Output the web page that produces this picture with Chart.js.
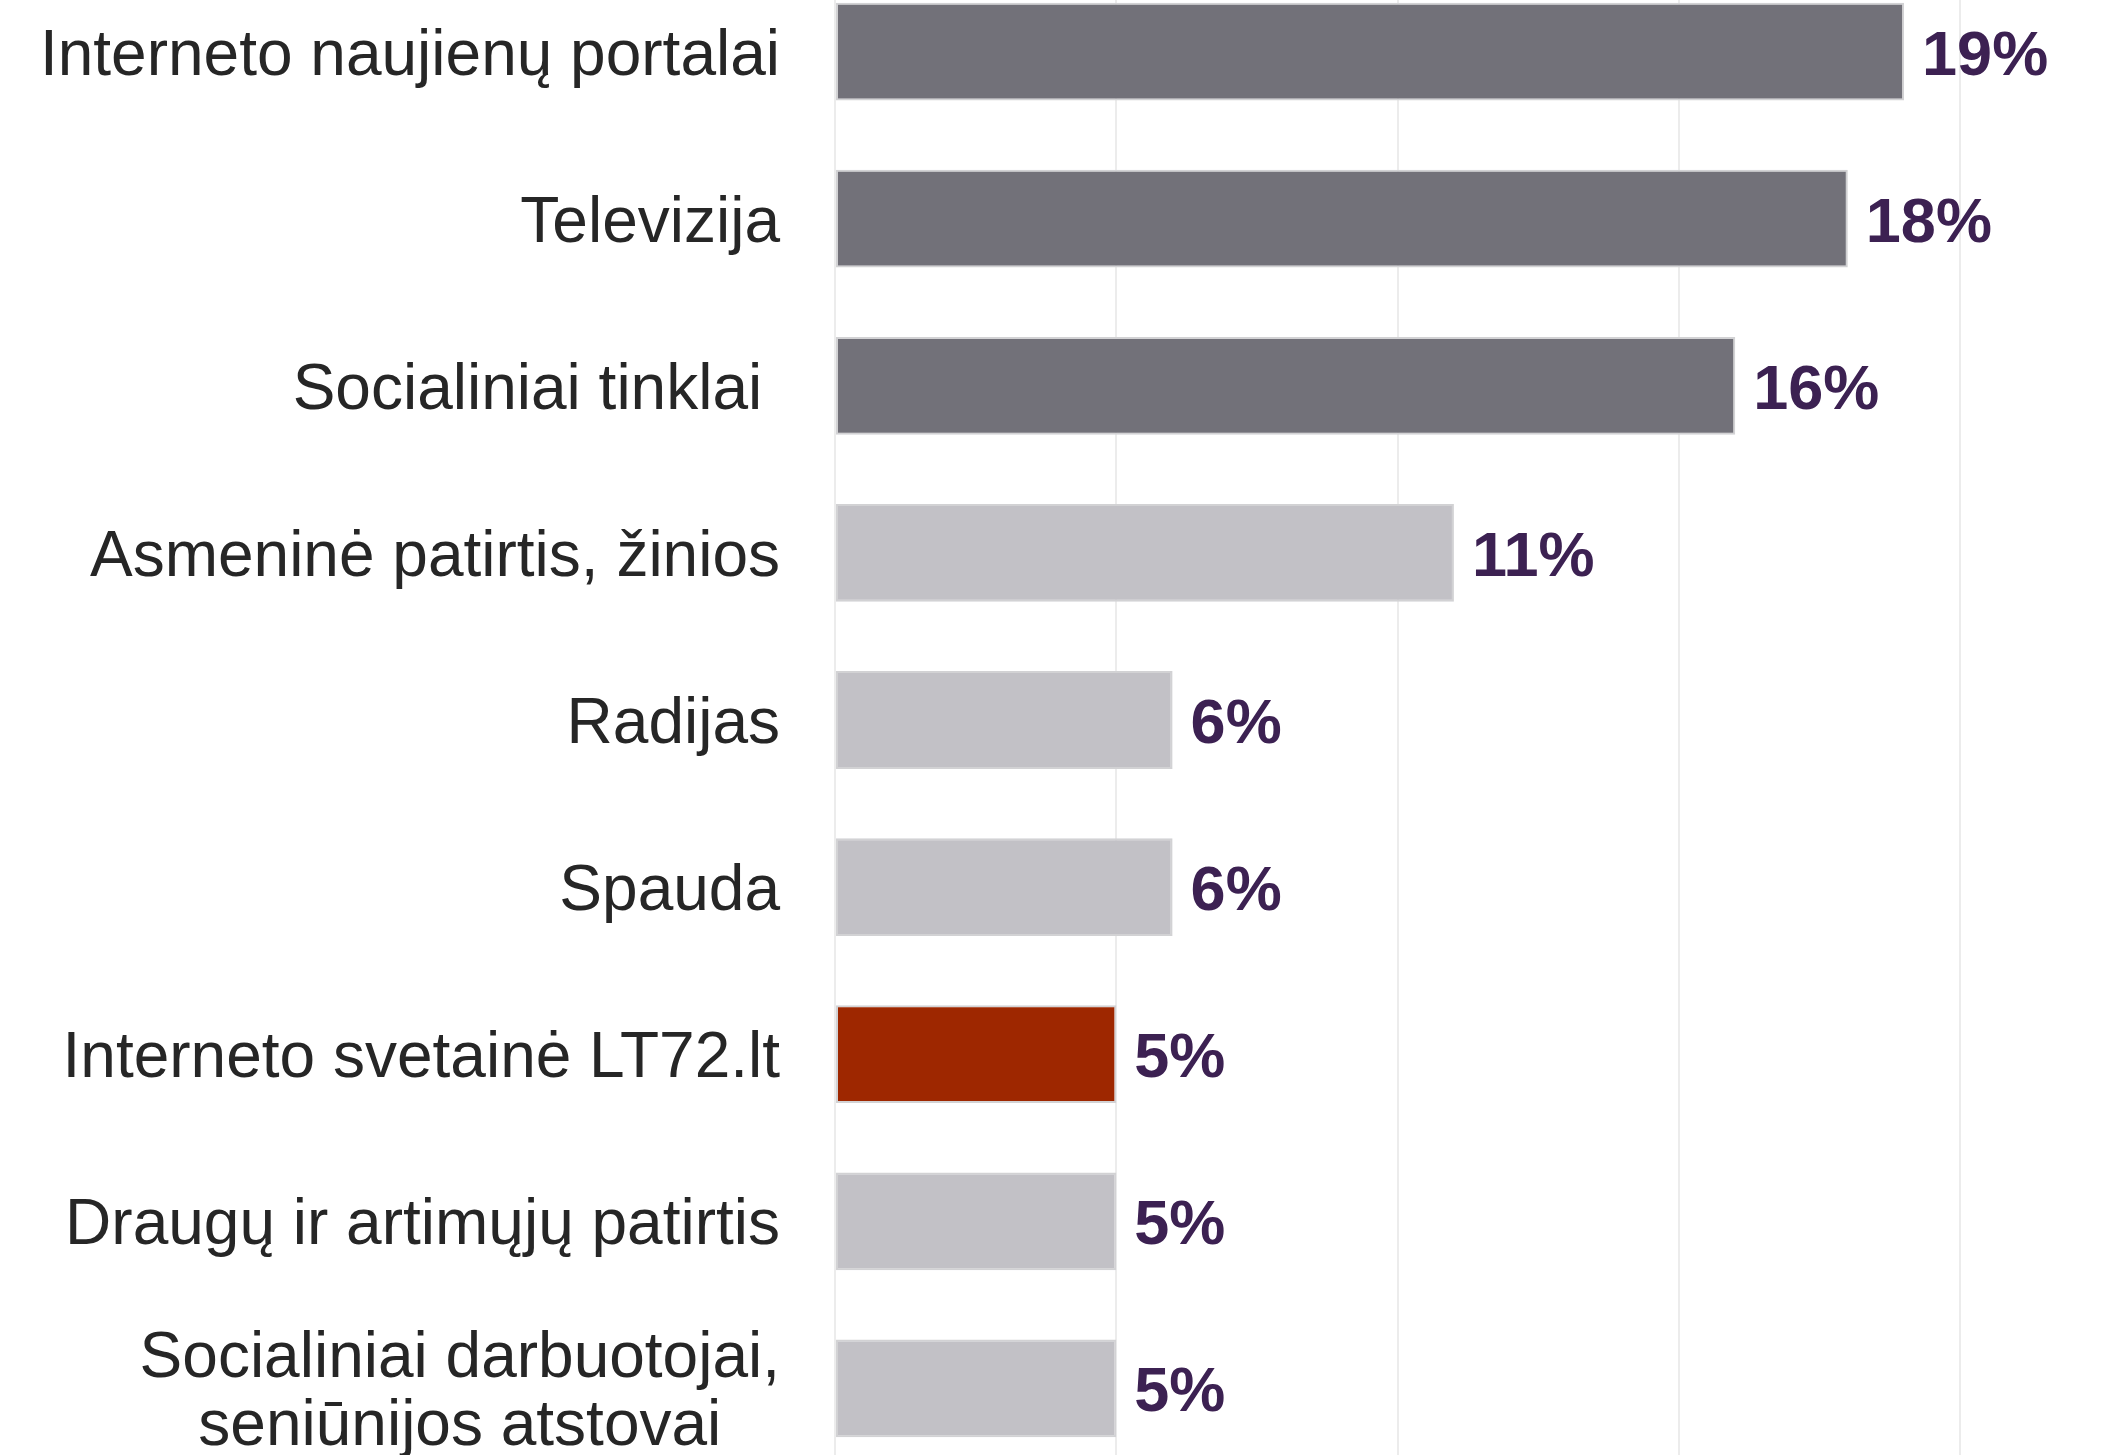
<!DOCTYPE html>
<html lang="en">
<head>
    <meta charset="UTF-8">
    <title>Informacijos šaltiniai</title>
    <script src="https://cdn.jsdelivr.net/npm/chart.js@4.4.1/dist/chart.umd.min.js"></script>
    <style>
        html, body {margin: 0; padding: 0; background: #fff; overflow: hidden;}
        .chart-wrap {position: absolute; left: 0; top: -32px; width: 2101px; height: 1504px;}
    </style>
</head>
<body>
    <div class="chart-wrap">
        <canvas id="myChart" width="2101" height="1504"></canvas>
    </div>
<script>
// kategorijos ir reikšmės (%)
const categories = [
    ['Interneto naujienų portalai'],
    ['Televizija'],
    ['Socialiniai tinklai '],
    ['Asmeninė patirtis, žinios'],
    ['Radijas'],
    ['Spauda'],
    ['Interneto svetainė LT72.lt'],
    ['Draugų ir artimųjų patirtis'],
    ['Socialiniai darbuotojai,', 'seniūnijos atstovai']
];
const values = [19, 18, 16, 11, 6, 6, 5, 5, 5];
const valueLabels = ['19%', '18%', '16%', '11%', '6%', '6%', '5%', '5%', '5%'];
const barColors = ['#727179', '#727179', '#727179', '#c2c1c6', '#c2c1c6', '#c2c1c6', '#9e2700', '#c2c1c6', '#c2c1c6'];

const FONT = '"Liberation Sans", Arial, sans-serif';

// kategorijų ir reikšmių užrašai
const labelPlugin = {
    id: 'labels',
    afterDatasetsDraw(chart) {
        const ctx = chart.ctx;
        const yScale = chart.scales.y;
        const meta = chart.getDatasetMeta(0);
        ctx.save();

        // kairėje - kategorijos
        ctx.font = '64px ' + FONT;
        ctx.fillStyle = '#262626';
        ctx.textBaseline = 'alphabetic';
        categories.forEach((lines, i) => {
            const y = yScale.getPixelForValue(i);
            if (lines.length === 1) {
                ctx.textAlign = 'right';
                ctx.fillText(lines[0], 780, y + 23);
            } else {
                const w = ctx.measureText(lines[0]).width;
                const cx = 780 - w / 2;
                ctx.textAlign = 'center';
                ctx.fillText(lines[0], cx, y - 34 + 23);
                ctx.fillText(lines[1], cx, y + 34 + 23);
            }
        });

        // dešinėje - procentai
        ctx.font = 'bold 63px ' + FONT;
        ctx.fillStyle = '#3c2152';
        ctx.textAlign = 'left';
        meta.data.forEach((bar, i) => {
            ctx.fillText(valueLabels[i], bar.x + 18, bar.y + 23);
        });
        ctx.restore();
    }
};

const ctx = document.getElementById('myChart').getContext('2d');
const myChart = new Chart(ctx, {
    type: 'bar',
    plugins: [labelPlugin],
    data: {
        labels: categories,
        datasets: [{
            data: values,
            backgroundColor: barColors,
            borderColor: '#d2d2d4',
            borderWidth: 2,
            borderSkipped: false,
            barPercentage: 0.585,
            categoryPercentage: 1
        }]
    },
    options: {
        indexAxis: 'y',
        responsive: false,
        animation: false,
        devicePixelRatio: 1,
        layout: {padding: {left: 835, right: 0, top: 0, bottom: 0}},
        plugins: {
            legend: {display: false},
            tooltip: {enabled: false}
        },
        scales: {
            x: {
                min: 0,
                max: 22.5,
                ticks: {display: false, stepSize: 5},
                afterBuildTicks: (scale) => {
                    scale.ticks = scale.ticks.filter(t => t.value % 5 === 0);
                },
                grid: {color: '#ececec', lineWidth: 2, drawTicks: false},
                border: {display: false}
            },
            y: {
                display: false,
                offset: true
            }
        }
    }
});
</script>
</body>
</html>
